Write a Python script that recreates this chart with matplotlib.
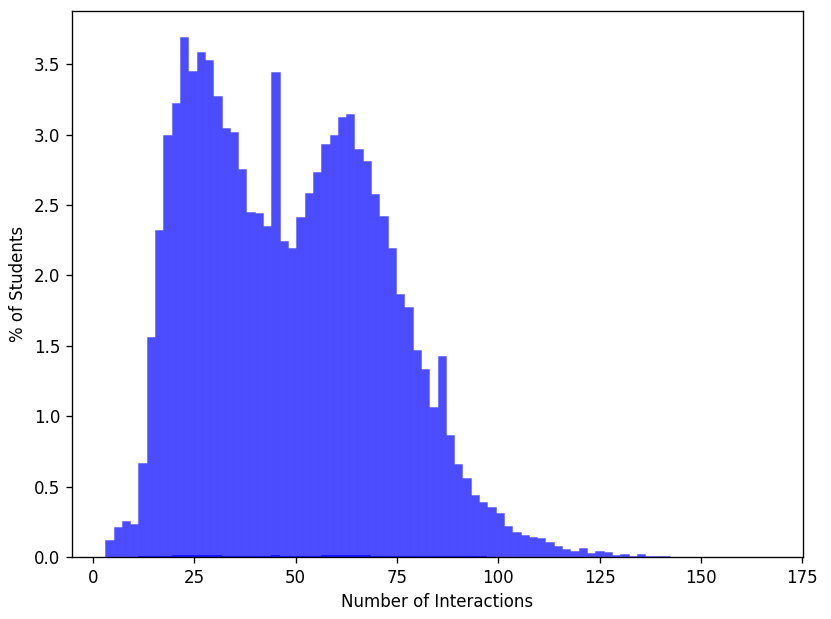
import numpy as np
import matplotlib
matplotlib.use("Agg")
import matplotlib.pyplot as plt

# Histogram bins
bin_lo = 3.0
bin_hi = 167.0
n_bins = 80

# % of students per bin (main series)
main_pct = [
    0.118, 0.216, 0.255, 0.235, 0.666, 1.562, 2.322, 2.995, 3.223, 3.693,
    3.448, 3.583, 3.527, 3.272, 3.049, 3.015, 2.755, 2.449, 2.444, 2.353,
    3.443, 2.241, 2.192, 2.414, 2.585, 2.734, 2.935, 2.994, 3.124, 3.148,
    2.895, 2.810, 2.575, 2.421, 2.197, 1.870, 1.778, 1.470, 1.335, 1.065,
    1.430, 0.869, 0.660, 0.558, 0.440, 0.391, 0.353, 0.312, 0.222, 0.180,
    0.156, 0.140, 0.135, 0.107, 0.080, 0.057, 0.043, 0.062, 0.026, 0.040,
    0.036, 0.017, 0.024, 0.007, 0.019, 0.009, 0.007, 0.005, 0.003, 0.002,
    0.002, 0.001, 0.001, 0.000, 0.001, 0.000, 0.000, 0.000, 0.000, 0.001,
]

# small second series (barely visible near zero)
second_pct = [
    0.002, 0.003, 0.003, 0.003, 0.004, 0.006, 0.008, 0.010, 0.011, 0.013,
    0.012, 0.012, 0.011, 0.011, 0.010, 0.010, 0.009, 0.009, 0.008, 0.009,
    0.016, 0.008, 0.008, 0.009, 0.010, 0.010, 0.011, 0.011, 0.012, 0.012,
    0.011, 0.011, 0.010, 0.010, 0.009, 0.008, 0.008, 0.007, 0.006, 0.006,
    0.006, 0.005, 0.005, 0.004, 0.004, 0.004, 0.003, 0.003, 0.003, 0.003,
    0.002, 0.002, 0.002, 0.002, 0.002, 0.002, 0.002, 0.002, 0.001, 0.001,
    0.001, 0.001, 0.001, 0.001, 0.001, 0.001, 0.001, 0.001, 0.000, 0.000,
    0.000, 0.000, 0.000, 0.000, 0.000, 0.000, 0.000, 0.000, 0.000, 0.000,
]

x_label = "Number of Interactions"
y_label = "% of Students"

edges = np.linspace(bin_lo, bin_hi, n_bins + 1)
widths = np.diff(edges)

DPI = 120
fig = plt.figure(figsize=(831 / DPI, 619 / DPI), dpi=DPI)
ax = fig.add_axes([72 / 831, 1 - 557 / 619, (803 - 72) / 831, (557 - 11) / 619])

ax.bar(edges[:-1], main_pct, width=widths, align="edge", color="blue",
       alpha=0.7, linewidth=0.4, edgecolor=(0.3, 0.3, 1.0, 0.6))
ax.bar(edges[:-1], second_pct, width=widths, align="edge", color="blue",
       alpha=0.7, linewidth=0)

ax.set_xticks([0, 25, 50, 75, 100, 125, 150, 175])
ax.set_yticks([0.0, 0.5, 1.0, 1.5, 2.0, 2.5, 3.0, 3.5])
ax.set_xlabel(x_label)
ax.set_ylabel(y_label)

fig.savefig("out.png", dpi=DPI)
